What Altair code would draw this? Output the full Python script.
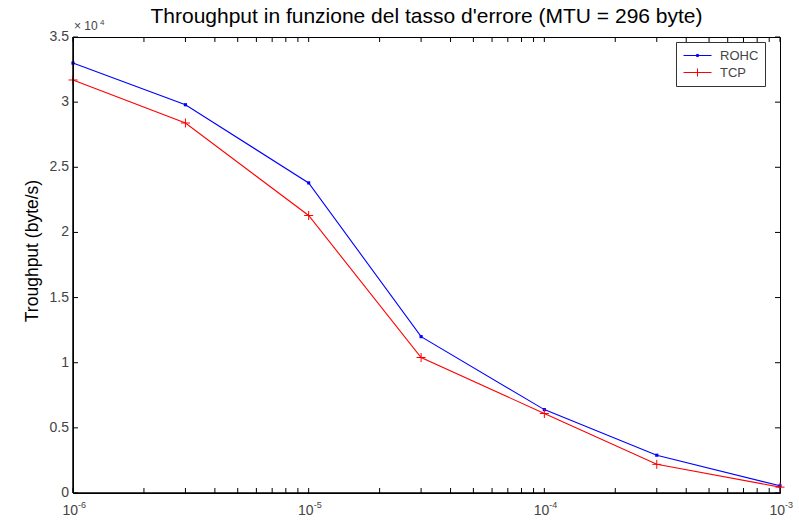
import altair as alt
import pandas as pd

# ---- data ----
error_rate = [1e-6, 3e-6, 1e-5, 3e-5, 1e-4, 3e-4, 1e-3]
rohc = [33000, 29800, 23800, 12000, 6400, 2900, 550]
tcp = [31700, 28400, 21300, 10400, 6100, 2200, 450]
series_names = ["ROHC", "TCP"]
series_colors = ["#0000ff", "#ff0000"]

y_ticks = [0, 5000, 10000, 15000, 20000, 25000, 30000, 35000]
y_tick_labels = ["0", "0.5", "1", "1.5", "2", "2.5", "3", "3.5"]
x_major = [1e-6, 1e-5, 1e-4, 1e-3]
x_major_base = ["10", "10", "10", "10"]
x_major_exp = ["-6", "-5", "-4", "-3"]
x_minor = [m * 10.0 ** e for e in (-6, -5, -4) for m in range(2, 10)]
mult_base = ["\u00d7 10"]
mult_exp = ["4"]
y_title = ["Troughput (byte/s)"]
title_text = "Throughput in funzione del tasso d'errore (MTU = 296 byte)"

W, H = 707, 456
FONT = "Liberation Sans"
LABEL_COLOR = "#444"

df = pd.DataFrame({
    "err": error_rate + error_rate,
    "thr": rohc + tcp,
    "series": [series_names[0]] * len(rohc) + [series_names[1]] * len(tcp),
})

xscale = alt.Scale(type="log", domain=[1e-6, 1e-3], nice=False)
yscale = alt.Scale(domain=[0, 35000], nice=False, zero=True)
cscale = alt.Scale(domain=series_names, range=series_colors)

X = alt.X("err:Q", scale=xscale, axis=None)
Y = alt.Y("thr:Q", scale=yscale, axis=None)

base = alt.Chart(df)
rohc_data = base.transform_filter(alt.datum.series == series_names[0])
tcp_data = base.transform_filter(alt.datum.series == series_names[1])

rohc_line = rohc_data.mark_line(strokeWidth=1.1, color=series_colors[0]).encode(x=X, y=Y)
tcp_line = tcp_data.mark_line(strokeWidth=1.1, color=series_colors[1]).encode(x=X, y=Y)

rohc_pts = rohc_data.mark_square(
    size=10, color=series_colors[0], filled=True, opacity=1
).encode(x=X, y=Y)

tcp_pts = tcp_data.mark_point(
    shape="M-1,0L1,0M0,-1L0,1", size=81, filled=False, strokeWidth=1,
    color=series_colors[1], opacity=1
).encode(x=X, y=Y)

legend_def = alt.Legend(
    orient="none", legendX=603, legendY=5, title=None,
    strokeColor="#333", fillColor="white", padding=6,
    symbolSize=196, symbolStrokeWidth=1, symbolOffset=8,
    labelFontSize=13, labelColor=LABEL_COLOR, labelFont=FONT,
    labelOffset=15, rowPadding=2,
)
legend_layer = base.transform_filter("false").mark_point(
    filled=False, strokeWidth=1, opacity=1
).encode(
    x=X, y=Y,
    color=alt.Color("series:N", scale=cscale, legend=legend_def),
    shape=alt.Shape("series:N",
                    scale=alt.Scale(domain=series_names,
                                    range=["M-2,0L2,0M-0.145,-0.15L0.145,-0.15L0.145,0.15L-0.145,0.15Z",
                                           "M-2,0L2,0M0,-0.57L0,0.57"]),
                    legend=legend_def),
)

# axis lines (left / bottom, darker)
frame_left = alt.Chart(pd.DataFrame({"k": [0]})).mark_rule(color="#000", strokeWidth=1.5).encode(
    x=alt.value(0), y=alt.value(0), y2=alt.value(H))
frame_bottom = alt.Chart(pd.DataFrame({"k": [0]})).mark_rule(color="#000", strokeWidth=1.5).encode(
    x=alt.value(0), x2=alt.value(W), y=alt.value(H))

# inward ticks (MATLAB style box)
yt = alt.Chart(pd.DataFrame({"v": y_ticks, "lab": y_tick_labels}))
yt_left = yt.mark_rule(color="#000", strokeWidth=1).encode(
    y=alt.Y("v:Q", scale=yscale, axis=None), x=alt.value(0), x2=alt.value(5))
yt_right = yt.mark_rule(color="#000", strokeWidth=1).encode(
    y=alt.Y("v:Q", scale=yscale, axis=None), x=alt.value(W - 5), x2=alt.value(W))
yt_labels = yt.mark_text(align="right", baseline="middle", fontSize=14, font=FONT,
                         color=LABEL_COLOR, dx=-4).encode(
    y=alt.Y("v:Q", scale=yscale, axis=None), x=alt.value(0), text="lab:N")

xt = alt.Chart(pd.DataFrame({"v": x_major + x_minor}))
xt_bottom = xt.mark_rule(color="#000", strokeWidth=1).encode(
    x=alt.X("v:Q", scale=xscale, axis=None), y=alt.value(H), y2=alt.value(H - 5))
xt_top = xt.mark_rule(color="#000", strokeWidth=1).encode(
    x=alt.X("v:Q", scale=xscale, axis=None), y=alt.value(0), y2=alt.value(5))

# x tick labels 10^e
xl = alt.Chart(pd.DataFrame({"v": x_major, "b": x_major_base, "e": x_major_exp}))
xl_base = xl.mark_text(align="right", baseline="alphabetic", dx=5, fontSize=14,
                       font=FONT, color=LABEL_COLOR).encode(
    x=alt.X("v:Q", scale=xscale, axis=None), y=alt.value(H + 22), text="b:N")
xl_exp = xl.mark_text(align="left", baseline="alphabetic", dx=5, fontSize=9,
                      font=FONT, color=LABEL_COLOR).encode(
    x=alt.X("v:Q", scale=xscale, axis=None), y=alt.value(H + 15), text="e:N")

# multiplier  x 10^4
mb = alt.Chart(pd.DataFrame({"t": mult_base})).mark_text(
    align="left", baseline="alphabetic", fontSize=12, font=FONT, color=LABEL_COLOR
).encode(x=alt.value(1), y=alt.value(-7), text="t:N")
me = alt.Chart(pd.DataFrame({"t": mult_exp})).mark_text(
    align="left", baseline="alphabetic", fontSize=8, font=FONT, color=LABEL_COLOR
).encode(x=alt.value(27), y=alt.value(-12), text="t:N")

# y axis title
yttl = alt.Chart(pd.DataFrame({"t": y_title})).mark_text(
    align="center", baseline="alphabetic", angle=270, fontSize=17.5, font=FONT, color="#000"
).encode(x=alt.value(-35), y=alt.value(214), text="t:N")

chart = alt.layer(
    rohc_line, tcp_line, rohc_pts, tcp_pts, legend_layer,
    frame_left, frame_bottom,
    yt_left, yt_right, yt_labels, xt_bottom, xt_top, xl_base, xl_exp, mb, me, yttl
).properties(
    width=W, height=H,
    title=alt.TitleParams(
        title_text,
        fontSize=21, fontWeight="normal", font=FONT, anchor="middle",
        offset=8, dy=16, color="#000"),
    autosize=alt.AutoSizeParams(type="none"),
    padding={"left": 73, "top": 37, "right": 19, "bottom": 28},
).configure(font=FONT, background="white").configure_view(stroke="#000", strokeWidth=1)

chart.save("out.html", embed_options={"renderer": "svg", "actions": False})
